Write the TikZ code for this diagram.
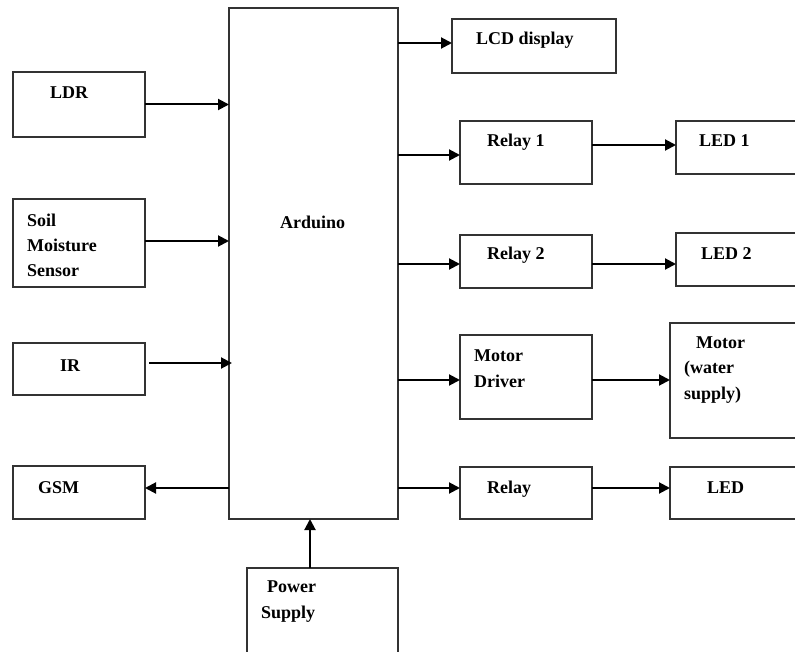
\documentclass[tikz,border=0pt]{standalone}
\usepackage{fontspec}
\setmainfont{Liberation Serif}
\usetikzlibrary{arrows.meta,calc}
\tikzset{b/.style={draw=black!80,line width=1.3pt,minimum width=132pt,minimum height=53pt,inner sep=0pt,outer sep=0pt},
 flow/.style={-{Triangle[length=11pt,width=11pt]},line width=2pt},
 txt/.style={anchor=base west,align=left,inner sep=0pt,font=\fontsize{18}{25.5}\selectfont\bfseries}}
\begin{document}
\begin{tikzpicture}[x=1pt,y=-1pt]
\useasboundingbox(0,0)rectangle(795,652);
\clip(0,0)rectangle(795,652);
% inputs
\node[b,minimum height=65pt](ldr) at(79,104.5){};
\node[b,minimum height=88pt](soil) at(79,243){};
\node[b,minimum height=52pt](ir) at(79,369){};
\node[b](gsm) at(79,492.5){};
\node[b,minimum width=169pt,minimum height=511pt](ard) at(313.5,263.5){};
\node[b,minimum width=151pt,minimum height=92pt](ps) at(322.5,614){};
% outputs
\node[b,minimum width=164pt,minimum height=54pt](lcd) at(534,46){};
\node[b,minimum height=63pt](rl1) at(526,152.5){};
\node[b,minimum width=130pt](led1) at(741,147.5){};
\node[b](rl2) at(526,261.5){};
\node[b,minimum width=130pt](led2) at(741,259.5){};
\node[b,minimum height=84pt](md) at(526,377){};
\node[b,minimum width=136pt,minimum height=115pt](mot) at(738,380.5){};
\node[b,minimum height=52pt](rl) at(526,493){};
\node[b,minimum width=136pt,minimum height=52pt](led) at(738,493){};
% labels (base = last line)
\node[txt](tldr) at(50,99){LDR};
\node[txt](tsoil) at(27,277){Soil\\Moisture\\Sensor};
\node[txt](tir) at(60,371){IR};
\node[txt](tgsm) at(38,493){GSM};
\node[txt](tard) at(280,229){Arduino};
\node[txt](tps) at(261,618){\hspace*{6pt}Power\\Supply};
\node[txt](tlcd) at(476,45){LCD display};
\node[txt](trl1) at(487,147){Relay 1};
\node[txt](tled1) at(699,147){LED 1};
\node[txt](trl2) at(487,260){Relay 2};
\node[txt](tled2) at(701,260){LED 2};
\node[txt](tmd) at(474,387){Motor\\Driver};
\node[txt](tmot) at(684,399){\hspace*{12pt}Motor\\(water\\supply)};
\node[txt](trl) at(487,493){Relay};
\node[txt](tled) at(707,493){LED};
% connectors
\coordinate(cir) at($(ir.east)+(4,-6)$);
\coordinate(cgsm) at($(gsm.east)+(0,-4.5)$);
\coordinate(clcd) at($(lcd.west)+(0,-3)$);
\coordinate(crl1) at($(rl1.west)+(0,2.5)$);
\coordinate(cled1) at($(led1.west)+(0,-2.5)$);
\coordinate(crl2) at($(rl2.west)+(0,2.5)$);
\coordinate(cled2) at($(led2.west)+(0,4.5)$);
\coordinate(cmd) at($(md.west)+(0,3)$);
\coordinate(cmot) at($(mot.west)+(0,-0.5)$);
\coordinate(crl) at($(rl.west)+(0,-5)$);
\coordinate(cled) at($(led.west)+(0,-5)$);
\coordinate(cps) at($(ps.north)+(-12.5,0)$);
\draw[flow](ldr.east)--(ldr.east-|ard.west);
\draw[flow]($(soil.east)+(0,-2)$)--($(soil.east-|ard.west)+(0,-2)$);
\draw[flow](cir)--($(cir-|ard.west)+(3,0)$);
\draw[flow](cgsm-|ard.west)--(cgsm);
\draw[flow](clcd-|ard.east)--(clcd);
\draw[flow](crl1-|ard.east)--(crl1);
\draw[flow](cled1-|rl1.east)--(cled1);
\draw[flow](crl2-|ard.east)--(crl2);
\draw[flow](cled2-|rl2.east)--(cled2);
\draw[flow](cmd-|ard.east)--(cmd);
\draw[flow](cmot-|md.east)--(cmot);
\draw[flow](crl-|ard.east)--(crl);
\draw[flow](cled-|rl.east)--(cled);
\draw[flow](cps)--(cps|-ard.south);
\end{tikzpicture}
\end{document}
